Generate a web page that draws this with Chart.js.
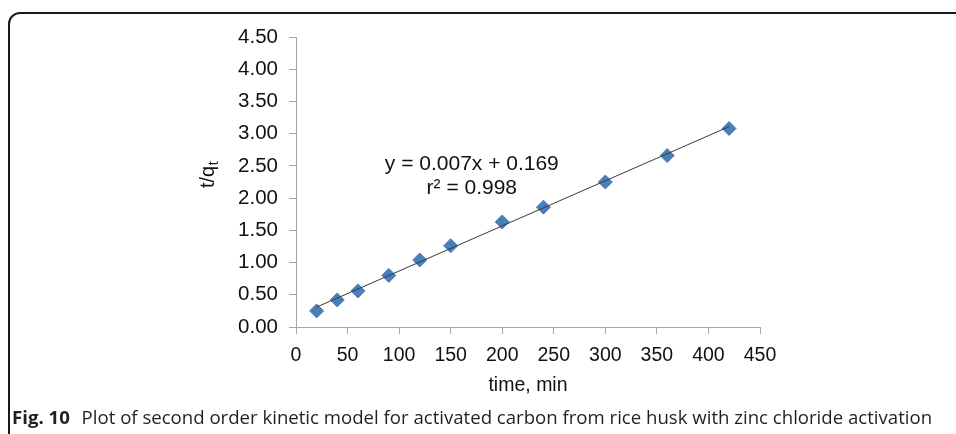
<!DOCTYPE html>
<html>
<head>
<meta charset="utf-8">
<script src="https://cdn.jsdelivr.net/npm/chart.js@4.4.1/dist/chart.umd.min.js"></script>
<style>
    html, body { margin: 0; padding: 0; background: #fff; }
    #wrap { position: relative; width: 956px; height: 434px; overflow: hidden; }
    #frame {
        position: absolute; left: 8px; top: 12px; width: 1100px; height: 600px;
        border: 2px solid #1a1a1a; border-radius: 12px; box-sizing: border-box;
    }
    #chart { position: absolute; left: 0; top: 0; }
    #caption {
        position: absolute; left: 12px; top: 404px; white-space: nowrap;
        font-family: 'Open Sans', sans-serif; font-size: 18.6px; color: #231f20;
    }
    #caption b { font-weight: 700; margin-right: 7px; }
</style>
</head>
<body>
<div id="wrap">
    <div id="frame"></div>
    <canvas id="chart" width="956" height="434"></canvas>
    <div id="caption"><b>Fig. 10</b> Plot of second order kinetic model for activated carbon from rice husk with zinc chloride activation</div>
</div>
<script>
// datos
const TIEMPO = [20, 40, 60, 90, 120, 150, 200, 240, 300, 360, 420];
const T_QT = [0.25, 0.42, 0.56, 0.80, 1.04, 1.26, 1.63, 1.86, 2.25, 2.66, 3.08];

// linea de tendencia (extremos)
const AJUSTE_X = [20, 420];
const AJUSTE_Y = [0.309, 3.109];

const X_TICKS = [0, 50, 100, 150, 200, 250, 300, 350, 400, 450];
const Y_TICKS = [0, 0.5, 1, 1.5, 2, 2.5, 3, 3.5, 4, 4.5];

const ECUACION = ['y = 0.007x + 0.169', 'r\u00B2 = 0.998'];

const FONT = 'Liberation Sans, Arial, sans-serif';
const AXIS_COLOR = '#a6a6a6';

// titulo eje y con subindice + ecuacion
const textosPlugin = {
    id: 'textos',
    afterDraw(chart) {
        const ctx = chart.ctx;
        const { x, y } = chart.scales;
        ctx.save();
        ctx.fillStyle = '#111';

        // ecuacion
        ctx.font = `21px ${FONT}`;
        ctx.textAlign = 'center';
        ctx.textBaseline = 'middle';
        const ex = x.getPixelForValue(170.5);
        ctx.fillText(ECUACION[0], ex, y.getPixelForValue(2.53));
        ctx.fillText(ECUACION[1], ex, y.getPixelForValue(2.15));

        // t/qt rotado
        ctx.translate(208, 175);
        ctx.rotate(-Math.PI / 2);
        ctx.textAlign = 'left';
        ctx.font = `20px ${FONT}`;
        const main = 't/q';
        const wMain = ctx.measureText(main).width;
        ctx.font = `14px ${FONT}`;
        const wSub = ctx.measureText('t').width;
        const x0 = -(wMain + wSub) / 2;
        ctx.font = `20px ${FONT}`;
        ctx.fillText(main, x0, 0);
        ctx.font = `14px ${FONT}`;
        ctx.fillText('t', x0 + wMain + 0.5, 6);
        ctx.restore();
    }
};

const ctx = document.getElementById('chart').getContext('2d');
new Chart(ctx, {
    type: 'scatter',
    data: {
        datasets: [
            {
                label: 'Ajuste',
                data: AJUSTE_X.map((v, i) => ({ x: v, y: AJUSTE_Y[i] })),
                showLine: true,
                borderColor: '#3a3a3a',
                borderWidth: 1,
                pointRadius: 0,
                order: 0,
            },
            {
                label: 't/qt',
                data: TIEMPO.map((v, i) => ({ x: v, y: T_QT[i] })),
                pointStyle: 'rectRot',
                pointRadius: 7,
                backgroundColor: '#4a7ebb',
                borderColor: '#4a7ebb',
                borderWidth: 1,
                order: 1,
            }
        ]
    },
    options: {
        responsive: false,
        animation: false,
        layout: { padding: { top: 37, right: 196, bottom: 37, left: 0 } },
        plugins: {
            legend: { display: false },
            tooltip: { enabled: false }
        },
        scales: {
            x: {
                type: 'linear',
                min: 0,
                max: 450,
                afterBuildTicks: (s) => { s.ticks = X_TICKS.map(v => ({ value: v })); },
                afterFit: (s) => { s.height = 70; },
                ticks: { color: '#111', padding: 10, font: { family: FONT, size: 19.5 }, maxRotation: 0 },
                grid: { drawOnChartArea: false, color: AXIS_COLOR, tickLength: 7 },
                border: { color: AXIS_COLOR, width: 1 },
                title: {
                    display: true,
                    text: 'time, min',
                    color: '#111',
                    font: { family: FONT, size: 19.5 },
                    padding: { top: 0, bottom: 0 }
                }
            },
            y: {
                type: 'linear',
                min: 0,
                max: 4.5,
                afterBuildTicks: (s) => { s.ticks = Y_TICKS.map(v => ({ value: v })); },
                afterFit: (s) => { s.width = 296; },
                ticks: {
                    color: '#111',
                    padding: 11,
                    font: { family: FONT, size: 20.5 },
                    callback: (v) => v.toFixed(2)
                },
                grid: { drawOnChartArea: false, color: AXIS_COLOR, tickLength: 7 },
                border: { color: AXIS_COLOR, width: 1 }
            }
        }
    },
    plugins: [textosPlugin]
});
</script>
</body>
</html>
